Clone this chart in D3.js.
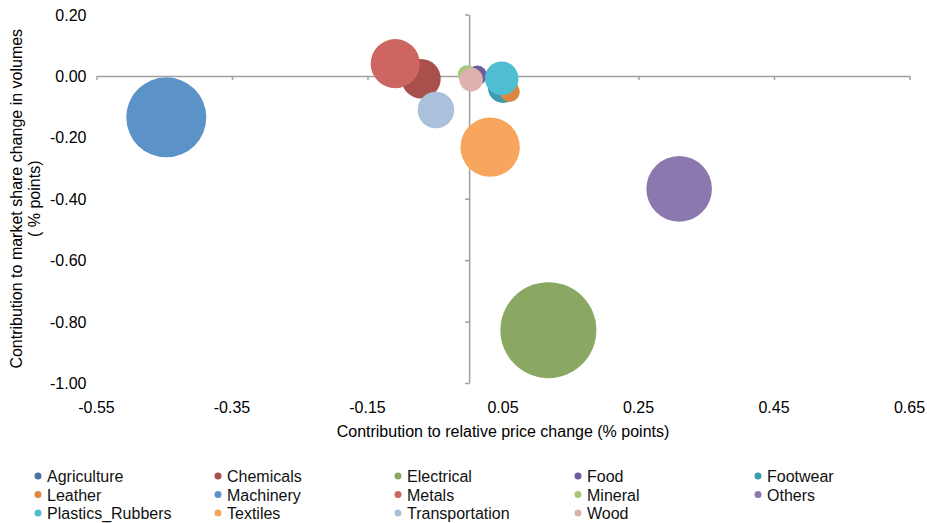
<!DOCTYPE html>
<html>
<head>
<meta charset="utf-8">
<script src="https://cdn.jsdelivr.net/npm/d3@7"></script>
<style>
  body { margin: 0; background: #fff; }
  svg { font-family: "Liberation Sans", Arial, sans-serif; }
</style>
</head>
<body>
<div id="chart"></div>
<script>
// series, drawn in this order (later ones on top)
const categories = ["Agriculture", "Chemicals", "Electrical", "Food", "Footwear",
  "Leather", "Machinery", "Metals", "Mineral", "Others",
  "Plastics_Rubbers", "Textiles", "Transportation", "Wood"];
const priceChange = [0.043, -0.071, 0.117, 0.012, 0.050,
  0.060, -0.447, -0.109, -0.003, 0.310,
  0.048, 0.031, -0.049, 0.003];
const shareChange = [-0.013, -0.009, -0.828, 0.002, -0.039,
  -0.052, -0.135, 0.040, 0.005, -0.368,
  -0.008, -0.232, -0.111, -0.012];
const bubbleSize = [0.036, 0.388, 2.304, 0.095, 0.225,
  0.100, 1.600, 0.605, 0.085, 1.076,
  0.282, 0.882, 0.335, 0.139];
const colors = ["#4D72A6", "#A9504C", "#8AA863", "#6F5D99", "#3C9CB0",
  "#DA8840", "#5B93C8", "#CD6661", "#A5C776", "#8A78AF",
  "#4FBED2", "#F8A55E", "#AAC0DB", "#DDB1B0"];

const xTicks = [-0.55, -0.35, -0.15, 0.05, 0.25, 0.45, 0.65];
const yTicks = [0.20, 0.00, -0.20, -0.40, -0.60, -0.80, -1.00];
const fmt = v => d3.format(".2f")(v).replace("\u2212", "-");

const width = 927, height = 523;
const plot = {left: 96.5, right: 909.5, top: 14.5, bottom: 383};

const svg = d3.select("#chart").append("svg")
  .attr("width", width)
  .attr("height", height);

const x = d3.scaleLinear().domain([-0.55, 0.65]).range([plot.left, plot.right]);
const y = d3.scaleLinear().domain([-1.0, 0.2]).range([plot.bottom, plot.top]);
const r = d3.scaleSqrt().domain([0, d3.max(bubbleSize)]).range([0, 48]);

// horizontal axis line sits at y = 0, vertical one at x = 0
const axisColor = "#A0A0A0";
const xAxis = svg.append("g")
  .attr("transform", `translate(0,${y(0)})`)
  .call(d3.axisBottom(x).tickValues(xTicks).tickSize(4).tickSizeOuter(0).tickFormat(""));
const yAxis = svg.append("g")
  .attr("transform", `translate(${x(0)},0)`)
  .call(d3.axisLeft(y).tickValues(yTicks).tickSize(4).tickSizeOuter(0).tickFormat(""));
[xAxis, yAxis].forEach(g => {
  g.select(".domain").attr("stroke", axisColor).attr("stroke-width", 1.5);
  g.selectAll(".tick line").attr("stroke", axisColor).attr("stroke-width", 1.5);
});

// tick labels at the plot edges
svg.append("g").selectAll("text")
  .data(xTicks)
  .join("text")
    .attr("x", d => x(d))
    .attr("y", plot.bottom + 30)
    .attr("text-anchor", "middle")
    .attr("font-size", 16)
    .attr("fill", "#000")
    .text(fmt);

svg.append("g").selectAll("text")
  .data(yTicks)
  .join("text")
    .attr("x", plot.left - 10)
    .attr("y", d => y(d) + 6)
    .attr("text-anchor", "end")
    .attr("font-size", 16)
    .attr("fill", "#000")
    .text(fmt);

// bubbles
svg.append("g").selectAll("circle")
  .data(categories.map((c, i) => ({name: c, px: priceChange[i], sy: shareChange[i], s: bubbleSize[i], color: colors[i]})))
  .join("circle")
    .attr("cx", d => x(d.px))
    .attr("cy", d => y(d.sy))
    .attr("r", d => r(d.s))
    .attr("fill", d => d.color);

// axis titles
svg.append("text")
  .attr("x", x(0.05))
  .attr("y", 437)
  .attr("text-anchor", "middle")
  .attr("font-size", 16)
  .text("Contribution to relative price change (% points)");

const yTitle = svg.append("text")
  .attr("transform", `translate(22,${(plot.top + plot.bottom) / 2}) rotate(-90)`)
  .attr("text-anchor", "middle")
  .attr("font-size", 16);
yTitle.append("tspan").attr("x", 0).attr("dy", 0).text("Contribution to market share change in volumes");
yTitle.append("tspan").attr("x", 0).attr("dy", 18).text("( % points)");

// legend, 5 columns
const legend = svg.append("g").selectAll("g")
  .data(categories)
  .join("g")
    .attr("transform", (d, i) => `translate(${38 + (i % 5) * 180},${476 + Math.floor(i / 5) * 18.5})`);
legend.append("circle")
  .attr("r", 3.5)
  .attr("fill", (d, i) => colors[i]);
legend.append("text")
  .attr("x", 9)
  .attr("y", 6)
  .attr("font-size", 16)
  .attr("fill", "#111")
  .text(d => d);
</script>
</body>
</html>
